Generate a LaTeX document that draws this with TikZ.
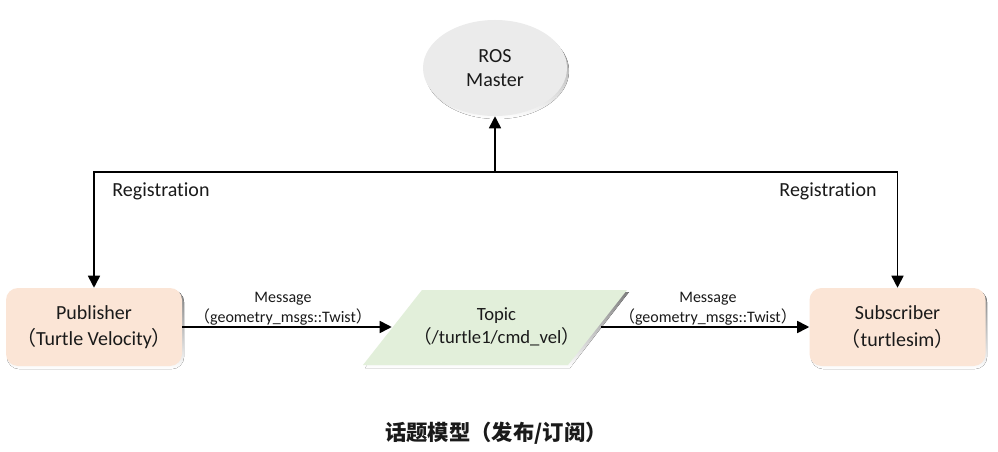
\documentclass[tikz,border=0pt]{standalone}
\usepackage{fontspec}
\setmainfont{Carlito}[Ligatures={NoCommon}]
\newfontfamily\cjk{Noto Sans CJK SC}
\usetikzlibrary{shapes.geometric,arrows.meta}
\definecolor{peach}{HTML}{FBE5D6}
\definecolor{leaf}{HTML}{E2EFDA}
\definecolor{mist}{HTML}{EBEBEB}
\definecolor{shade}{HTML}{EDF2F8}
\definecolor{ink}{HTML}{1A1A1A}
\newcommand{\lpar}{{\cjk （}}
\newcommand{\rpar}{{\cjk ）}}
\begin{document}
\begin{tikzpicture}[x=0.75pt,y=-0.75pt,
  font=\fontsize{15}{20}\selectfont, text=ink,
  arr/.style={draw=black, line width=1.2pt, -{Triangle[length=9pt,width=9pt]}},
  box/.style={rounded corners=9pt, fill=peach, minimum width=132pt, minimum height=58.5pt, align=center, inner sep=0pt},
  lbl/.style={font=\fontsize{12}{15}\selectfont, align=center, inner sep=1pt},
  reglbl/.style={font=\fontsize{15}{18}\selectfont, inner sep=0pt}]
\useasboundingbox (0,0) rectangle (998,452);
\fill[white] (0,0) rectangle (998,452);
% shadows
\fill[shade] (497,71) ellipse [x radius=72, y radius=48];
\fill[shade, rounded corners=9pt] (7,290) rectangle (184,369);
\fill[shade, rounded corners=9pt] (811,290) rectangle (987,369);
\fill[shade] (424,292) -- (629,292) -- (570,368) -- (365,368) -- cycle;
% topic shape
\fill[leaf] (422,290) -- (627,290) -- (568,365) -- (363,365) -- cycle;
% nodes
\node[ellipse, fill=mist, minimum width=108pt, minimum height=72pt, align=center, inner sep=0pt,
      font=\fontsize{15}{18}\selectfont] (master) at (495,68) {ROS\\Master};
\node[box] (pub) at (94,327) {Publisher\\\lpar Turtle Velocity\rpar};
\node[box] (sub) at (897.5,327) {Subscriber\\\lpar turtlesim\rpar};
\node[minimum width=156.75pt, minimum height=56pt, align=center, inner sep=0pt,
      font=\fontsize{14}{17}\selectfont] (topic) at (496.5,327) {Topic\\\lpar/turtle1/cmd\_vel\rpar};
\coordinate (junction) at (495,172);
% registration connectors
\draw[arr] (junction) -- (master);
\draw[arr] (junction) -| (pub.north);
\draw[arr] (junction) -| (sub.north);
\node[reglbl] (regl) at (161,191) {Registration};
\node[reglbl] (regr) at (828,191) {Registration};
% message connectors
\draw[arr] (pub.east) -- node[lbl, above, xshift=-3pt] (m1) {Message\\\lpar geometry\_msgs::Twist\rpar} (topic.west);
\draw[arr] (topic.east) -- node[lbl, above, xshift=2pt] (m2) {Message\\\lpar geometry\_msgs::Twist\rpar} (sub.west);
% caption
\node[font=\cjk\bfseries\fontsize{16}{20}\selectfont, inner sep=0pt] (cap) at (496,433) {话题模型（发布/订阅）};
\end{tikzpicture}
\end{document}
